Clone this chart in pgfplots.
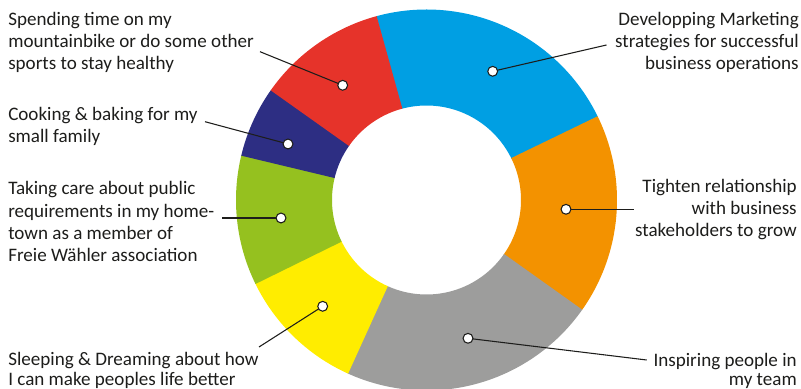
\documentclass[border=0pt]{standalone}
\usepackage{pgfplots}
\pgfplotsset{compat=1.18}
\usepackage{fontspec}
\setmainfont{Carlito}
\definecolor{cblue}{HTML}{009FE3}
\definecolor{corange}{HTML}{F39200}
\definecolor{cgray}{HTML}{9D9D9C}
\definecolor{cyellow}{HTML}{FFED00}
\definecolor{cgreen}{HTML}{95C11F}
\definecolor{cnavy}{HTML}{2D2E83}
\definecolor{cred}{HTML}{E6332A}
\definecolor{ctext}{HTML}{1D1D1B}
\newcommand{\lbl}{\fontsize{14.3pt}{17pt}\selectfont\color{ctext}}
% shares in percent (clockwise from 105.2 deg, 3.6 deg per percent):
% marketing 22, stakeholders 17, team 22, sleeping 11, public 11, cooking 6, sports 11
\newcommand{\slice}[3]{%
  \addplot[draw=#3, line width=72pt, line cap=butt, line join=round, no marks,
    data cs=polar, domain=#1:#2, samples=120] {142.5};}
\begin{document}
\begin{tikzpicture}
\begin{axis}[x=0.75pt, y=0.75pt, xmin=-426.5, xmax=374.5, ymin=-189, ymax=200,
  hide axis, clip=true]
\slice{25.85}{105.35}{cblue}
\slice{-35.35}{26.15}{corange}
\slice{-114.55}{-35.05}{cgray}
\slice{-154.15}{-114.25}{cyellow}
\slice{-193.75}{-153.85}{cgreen}
\slice{-215.35}{-193.45}{cnavy}
\slice{-254.95}{-215.05}{cred}
% leader lines
\addplot[ctext, line width=0.8pt, no marks] coordinates {(-83.8,114.7) (-166.5,148.3)};
\addplot[ctext, line width=0.8pt, no marks] coordinates {(-138.5,56) (-221.5,78.3)};
\addplot[ctext, line width=0.8pt, no marks] coordinates {(-145.5,-18) (-204.8,-18)};
\addplot[ctext, line width=0.8pt, no marks] coordinates {(-103.8,-106.3) (-167.5,-147)};
\addplot[ctext, line width=0.8pt, no marks] coordinates {(41.5,-138.3) (220.2,-160)};
\addplot[ctext, line width=0.8pt, no marks] coordinates {(139.5,-9.3) (207.8,-9.3)};
\addplot[ctext, line width=0.8pt, no marks] coordinates {(66.2,128.7) (180,155)};
% label dots
\addplot[only marks, mark=*, mark size=3.7pt, mark options={fill=white, draw=ctext, line width=0.8pt}]
  coordinates {(-83.8,114.7) (-138.5,56) (-145.5,-18) (-103.8,-106.3) (41.5,-138.3) (139.5,-9.3) (66.2,128.7)};
% left labels
\node[anchor=base west, inner sep=0pt, font=\lbl] at (axis cs:-418.5,174.5) {Spending time on my};
\node[anchor=base west, inner sep=0pt, font=\lbl] at (axis cs:-418.5,152) {mountainbike or do some other};
\node[anchor=base west, inner sep=0pt, font=\lbl] at (axis cs:-418.5,130) {sports to stay healthy};
\node[anchor=base west, inner sep=0pt, font=\lbl] at (axis cs:-418.5,79.5) {Cooking \& baking for my};
\node[anchor=base west, inner sep=0pt, font=\lbl] at (axis cs:-418.5,57) {small family};
\node[anchor=base west, inner sep=0pt, font=\lbl] at (axis cs:-418.5,5) {Taking care about public};
\node[anchor=base west, inner sep=0pt, font=\lbl] at (axis cs:-418.5,-17.3) {requirements in my home-};
\node[anchor=base west, inner sep=0pt, font=\lbl] at (axis cs:-418.5,-39.5) {town as a member of};
\node[anchor=base west, inner sep=0pt, font=\lbl] at (axis cs:-418.5,-61.8) {Freie Wähler association};
\node[anchor=base west, inner sep=0pt, font=\lbl] at (axis cs:-418.5,-166) {Sleeping \& Dreaming about how};
\node[anchor=base west, inner sep=0pt, font=\lbl] at (axis cs:-418.5,-185.5) {I can make peoples life better};
% right labels
\node[anchor=base east, inner sep=0pt, font=\lbl] at (axis cs:372.5,174.5) {Developping Marketing};
\node[anchor=base east, inner sep=0pt, font=\lbl] at (axis cs:372.5,152) {strategies for successful};
\node[anchor=base east, inner sep=0pt, font=\lbl] at (axis cs:372.5,130) {business operations};
\node[anchor=base east, inner sep=0pt, font=\lbl] at (axis cs:370.5,7.3) {Tighten relationship};
\node[anchor=base east, inner sep=0pt, font=\lbl] at (axis cs:370.5,-15) {with business};
\node[anchor=base east, inner sep=0pt, font=\lbl] at (axis cs:370.5,-36.8) {stakeholders to grow};
\node[anchor=base east, inner sep=0pt, font=\lbl] at (axis cs:370.5,-166.7) {Inspiring people in};
\node[anchor=base east, inner sep=0pt, font=\lbl] at (axis cs:370.5,-185.7) {my team};
\end{axis}
\pgfresetboundingbox
\path[use as bounding box] (current axis.south west) rectangle (current axis.north east);
\end{tikzpicture}
\end{document}
